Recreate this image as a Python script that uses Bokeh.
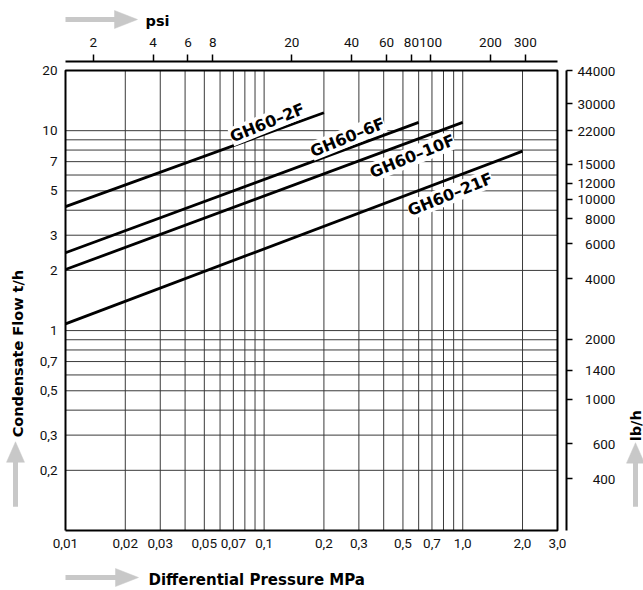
from bokeh.plotting import figure
from bokeh.layouts import column, row
from bokeh.models import Range1d, LogAxis, LogScale, FixedTicker, Label
from bokeh.embed import file_html
from bokeh.resources import INLINE

# ---------------- data ----------------
pressure_ticks = [0.01, 0.02, 0.03, 0.05, 0.07, 0.1, 0.2, 0.3, 0.5, 0.7, 1.0, 2.0, 3.0]
pressure_labels = ["0,01", "0,02", "0,03", "0,05", "0,07", "0,1", "0,2", "0,3", "0,5", "0,7", "1,0", "2,0", "3,0"]
flow_ticks = [0.2, 0.3, 0.5, 0.7, 1.0, 2.0, 3.0, 5.0, 7.0, 10.0, 20.0]
flow_labels = ["0,2", "0,3", "0,5", "0,7", "1", "2", "3", "5", "7", "10", "20"]
psi_ticks = [2, 4, 6, 8, 20, 40, 60, 80, 100, 200, 300]
lbh_ticks = [400, 600, 1000, 1400, 2000, 4000, 6000, 8000, 10000, 12000, 15000, 22000, 30000, 44000]

x_grid = [0.02, 0.03, 0.04, 0.05, 0.06, 0.07, 0.08, 0.09, 0.1,
          0.2, 0.3, 0.4, 0.5, 0.6, 0.7, 0.8, 0.9, 1.0, 2.0]
y_grid = [0.2, 0.3, 0.4, 0.5, 0.6, 0.7, 0.8, 0.9, 1.0,
          2.0, 3.0, 4.0, 5.0, 6.0, 7.0, 8.0, 9.0, 10.0]

gh60_2f_x = [0.01, 0.2]
gh60_2f_y = [4.17, 12.3]
gh60_6f_x = [0.01, 0.6]
gh60_6f_y = [2.45, 11.0]
gh60_10f_x = [0.01, 1.0]
gh60_10f_y = [2.02, 11.0]
gh60_21f_x = [0.01, 2.0]
gh60_21f_y = [1.08, 7.9]

x_min, x_max = 0.01, 3.0
y_min, y_max = 0.1, 20.0
PSI_PER_MPA = 145.0377
LBH_PER_TPH = 2204.62

# ---------------- layout (pixels) ----------------
W, H = 643, 590
TOP_H, BOT_H = 30, 30
LEFT_W, RIGHT_W = 28, 23
MID_H = H - TOP_H - BOT_H
MAIN_W = W - LEFT_W - RIGHT_W

PXD_X = 198.6   # px per decade, x
PXD_Y = 199.9   # px per decade, y
PAD_L, PAD_B, GAP_T, GAP_R = 3, 3, 9, 9
x_lo = x_min / 10 ** (PAD_L / PXD_X)
x_hi = x_max * 10 ** (GAP_R / PXD_X)
y_lo = y_min / 10 ** (PAD_B / PXD_Y)
y_hi = y_max * 10 ** (GAP_T / PXD_Y)

FRAME_L, FRAME_R, FRAME_T, FRAME_B = 62, 566, 61, 533   # page px

TICK_FONT = "Roboto"
TICK_SIZE = "13.5px"
TITLE_FONT = "DejaVu Sans"
GRID_COLOR = "#3a3a3a"
ARROW_COLOR = "#c8c8c8"

# ---------------- main chart ----------------
p = figure(width=MAIN_W, height=MID_H, x_axis_type="log", y_axis_type="log",
           x_range=Range1d(x_lo, x_hi), y_range=Range1d(y_lo, y_hi),
           output_backend="svg", toolbar_location=None,
           min_border_left=FRAME_L - LEFT_W, min_border_right=LEFT_W + MAIN_W - FRAME_R,
           min_border_top=FRAME_T - TOP_H, min_border_bottom=TOP_H + MID_H - FRAME_B)
p.outline_line_color = None
p.grid.visible = False


def style_plain(ax, ticks, labels, standoff):
    ax.ticker = FixedTicker(ticks=ticks, minor_ticks=[])
    ax.major_label_overrides = dict(zip(ticks, labels))
    ax.axis_line_color = None
    ax.major_tick_line_color = None
    ax.minor_tick_line_color = None
    ax.major_tick_out = 0
    ax.major_tick_in = 0
    ax.minor_tick_out = 0
    ax.minor_tick_in = 0
    ax.major_label_standoff = standoff
    ax.major_label_text_font = TICK_FONT
    ax.major_label_text_font_size = TICK_SIZE
    ax.major_label_text_color = "#111111"


style_plain(p.xaxis[0], pressure_ticks, pressure_labels, 5)
style_plain(p.yaxis[0], flow_ticks, flow_labels, 5)

# psi axis (top)
p.extra_x_ranges = {"psi": Range1d(x_lo * PSI_PER_MPA, x_hi * PSI_PER_MPA)}
p.extra_x_scales = {"psi": LogScale()}
psi_axis = LogAxis(x_range_name="psi",
                   ticker=FixedTicker(ticks=psi_ticks, minor_ticks=[]),
                   bounds=(x_min * PSI_PER_MPA, x_max * PSI_PER_MPA))
psi_axis.major_label_overrides = {t: str(t) for t in psi_ticks}
psi_axis.axis_line_width = 2
psi_axis.major_tick_line_width = 1.5
psi_axis.major_tick_out = 7
psi_axis.major_tick_in = 0
psi_axis.minor_tick_line_color = None
psi_axis.major_label_standoff = 8
psi_axis.major_label_text_font = TICK_FONT
psi_axis.major_label_text_font_size = TICK_SIZE
psi_axis.major_label_text_color = "#111111"
p.add_layout(psi_axis, "above")

# lb/h axis (right)
p.extra_y_ranges = {"lbh": Range1d(y_lo * LBH_PER_TPH, y_hi * LBH_PER_TPH)}
p.extra_y_scales = {"lbh": LogScale()}
lbh_axis = LogAxis(y_range_name="lbh",
                   ticker=FixedTicker(ticks=lbh_ticks, minor_ticks=[]),
                   bounds=(y_min * LBH_PER_TPH, y_max * LBH_PER_TPH))
lbh_axis.major_label_overrides = {t: "\u2007" * (5 - len(str(t))) + str(t) for t in lbh_ticks}
lbh_axis.axis_line_width = 2
lbh_axis.major_tick_line_width = 1.5
lbh_axis.major_tick_out = 6
lbh_axis.major_tick_in = 0
lbh_axis.minor_tick_line_color = None
lbh_axis.major_label_standoff = 5
lbh_axis.major_label_text_font = TICK_FONT
lbh_axis.major_label_text_font_size = TICK_SIZE
lbh_axis.major_label_text_color = "#111111"
p.add_layout(lbh_axis, "right")

# grid
p.segment(x0=x_grid, y0=[y_min] * len(x_grid), x1=x_grid, y1=[y_max] * len(x_grid),
          line_color=GRID_COLOR, line_width=1)
p.segment(x0=[x_min] * len(y_grid), y0=y_grid, x1=[x_max] * len(y_grid), y1=y_grid,
          line_color=GRID_COLOR, line_width=1)
# chart box
p.line([x_min, x_max, x_max, x_min, x_min], [y_min, y_min, y_max, y_max, y_min],
       line_color="black", line_width=2)

# curves
for xs, ys in [(gh60_2f_x, gh60_2f_y), (gh60_6f_x, gh60_6f_y),
               (gh60_10f_x, gh60_10f_y), (gh60_21f_x, gh60_21f_y)]:
    p.line(xs, ys, line_color="black", line_width=2.8)

# curve labels
for (lx, ly, txt) in [(0.1037, 10.96, "GH60\u20132F"), (0.263, 9.27, "GH60\u20136F"),
                      (0.557, 7.45, "GH60\u201310F"), (0.865, 4.80, "GH60\u201321F")]:
    p.add_layout(Label(x=lx, y=ly, text=txt, angle=22, angle_units="deg",
                       text_align="center", text_baseline="middle", text_color="black",
                       text_font=TITLE_FONT, text_font_style="bold", text_font_size="16px",
                       background_fill_color="white", background_fill_alpha=1.0))


# ---------------- margin strips (page pixel coordinates) ----------------
def strip(x0, x1, y0, y1):
    s = figure(width=x1 - x0, height=y1 - y0,
               x_range=Range1d(x0, x1), y_range=Range1d(y1, y0),
               x_axis_location=None, y_axis_location=None,
               output_backend="svg", toolbar_location=None, min_border=0)
    s.outline_line_color = None
    s.grid.visible = False
    return s


def arrow(s, xa, ya, xb, yb, head_len=23, head_half=9, width=5):
    dx, dy = xb - xa, yb - ya
    L = (dx * dx + dy * dy) ** 0.5
    ux, uy = dx / L, dy / L
    bx, by = xb - ux * head_len, yb - uy * head_len
    s.line([xa, bx + ux], [ya, by + uy], line_color=ARROW_COLOR, line_width=width)
    s.patch([xb, bx - uy * head_half, bx + uy * head_half],
            [yb, by + ux * head_half, by - ux * head_half],
            fill_color=ARROW_COLOR, line_color=ARROW_COLOR, line_width=0.5)


def title(s, x, y, text, angle=0, align="left", baseline="alphabetic", size="14.5px"):
    s.add_layout(Label(x=x, y=y, text=text, angle=angle, angle_units="deg",
                       text_align=align, text_baseline=baseline, text_color="black",
                       text_font=TITLE_FONT, text_font_style="bold", text_font_size=size))


top = strip(0, W, 0, TOP_H)
arrow(top, 65, 19, 137, 19)
title(top, 145, 20, "psi")

bottom = strip(0, W, H - BOT_H, H)
arrow(bottom, 65, 577, 138, 577)
title(bottom, 148, 579, "Differential Pressure MPa", size="15px")

left = strip(0, LEFT_W, TOP_H, H - BOT_H)
arrow(left, 15, 530, 15, 457)
title(left, 17, 358, "Condensate Flow t/h", angle=90, align="center", baseline="middle")

right = strip(W - RIGHT_W, W, TOP_H, H - BOT_H)
arrow(right, 635, 530, 635, 458)
title(right, 635, 439, "lb/h", angle=90, align="center", baseline="middle")

layout = column(top, row(left, p, right), bottom)
open("out.html", "w").write(file_html(layout, INLINE))
